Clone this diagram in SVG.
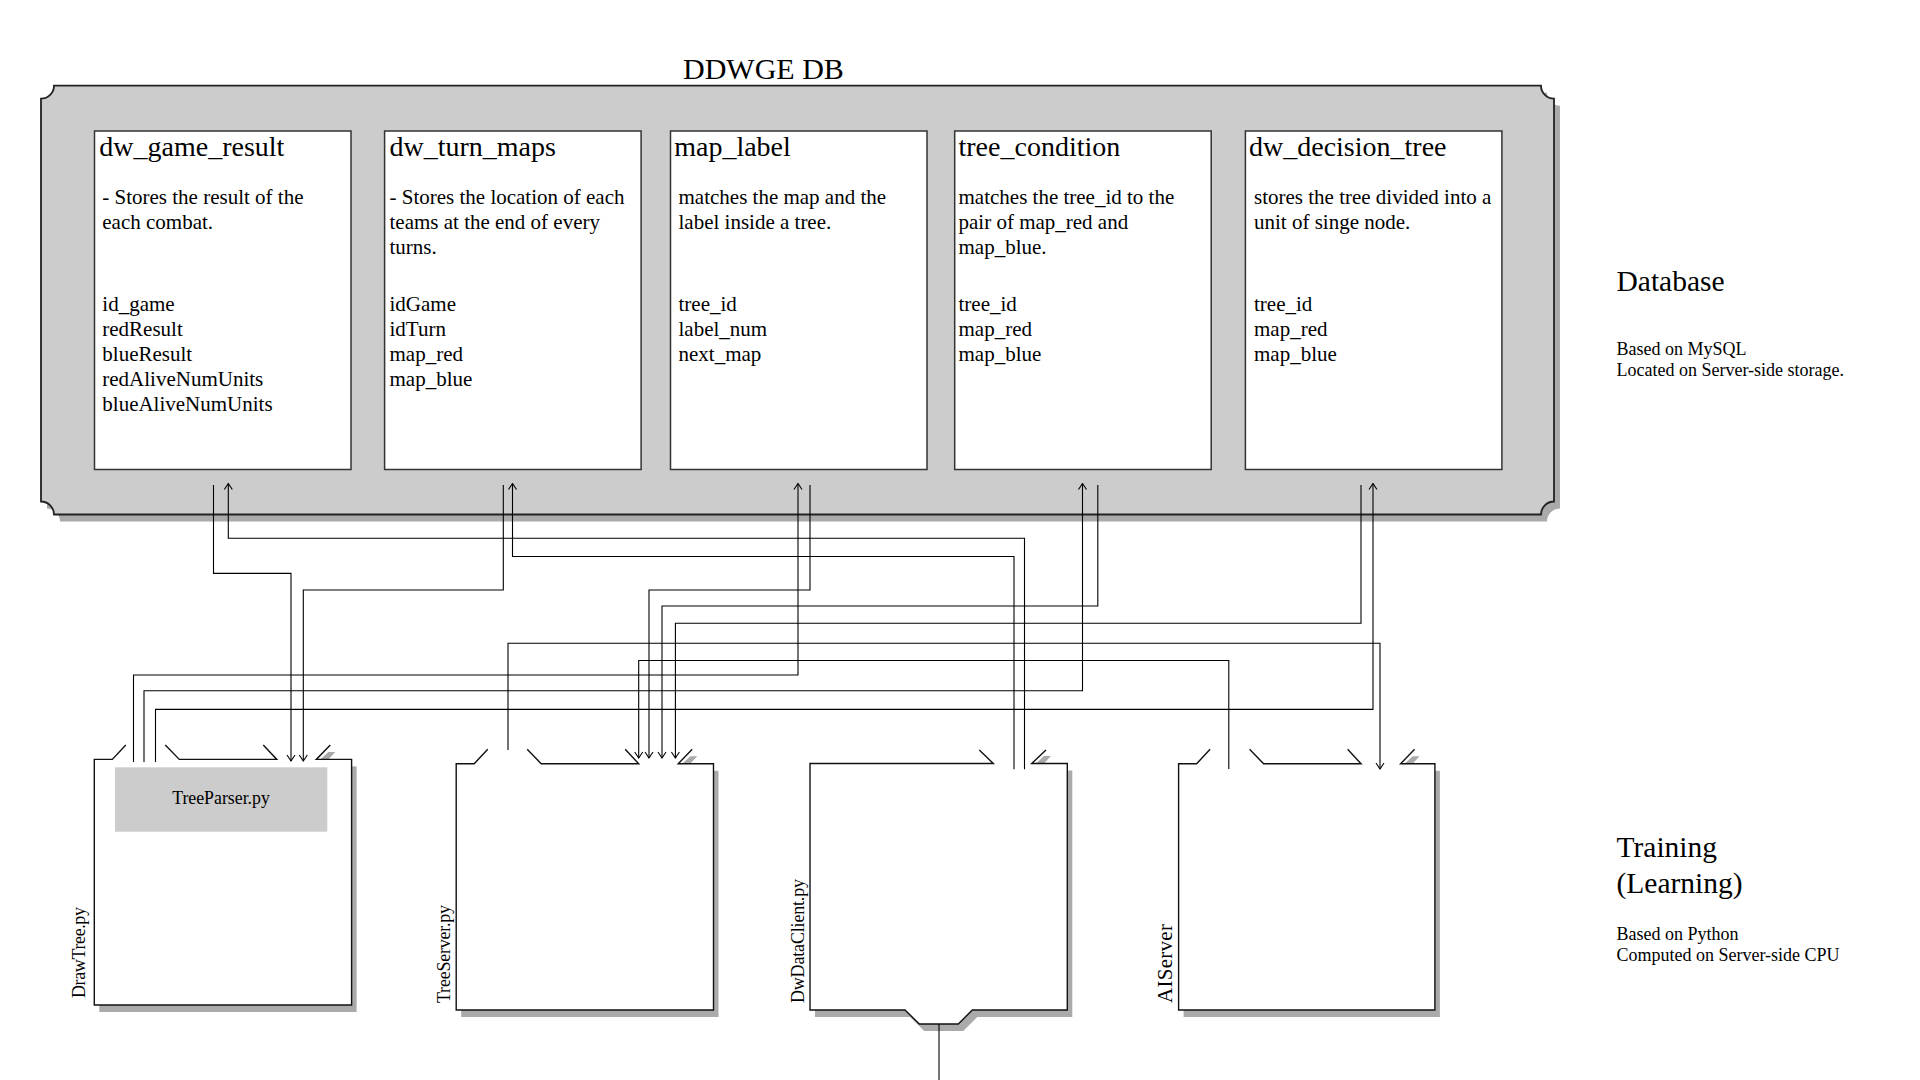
<svg xmlns="http://www.w3.org/2000/svg" width="1920" height="1080" viewBox="0 0 1920 1080">
<defs>
<style>
.t{font-family:"Liberation Serif","Times New Roman",serif;fill:#000}
.ttl{font-size:28px}
.bd{font-size:21px}
.big{font-size:29.5px}
.sm{font-size:18px}
.vl{font-size:18px}
.conn{fill:none;stroke:#000;stroke-width:1.1}
.tbl{fill:#fff;stroke:#333;stroke-width:1.5}
.shd{fill:#aaaaaa}
.nfill{fill:#fff}
.nline{fill:none;stroke:#111;stroke-width:1.4}
</style>
<marker id="arr" viewBox="-7 -6 8 12" markerWidth="8" markerHeight="12" refX="0" refY="0" orient="auto" markerUnits="userSpaceOnUse">
<path d="M-6,-4 L0,0 L-6,4" fill="none" stroke="#000" stroke-width="1.1"/>
</marker>
</defs>
<rect width="1920" height="1080" fill="#fff"/>

<g id="db">
<path class="shd" transform="translate(6,7)" d="M54,85.7 L1541,85.7 A13,13 0 0 0 1554,98.7 L1554,501.5 A13,13 0 0 0 1541,514.5 L54,514.5 A13,13 0 0 0 41,501.5 L41,98.7 A13,13 0 0 0 54,85.7 Z"/>
<path fill="#cccccc" stroke="#222" stroke-width="1.8" d="M54,85.7 L1541,85.7 A13,13 0 0 0 1554,98.7 L1554,501.5 A13,13 0 0 0 1541,514.5 L54,514.5 A13,13 0 0 0 41,501.5 L41,98.7 A13,13 0 0 0 54,85.7 Z"/>
<text class="t" x="683" y="79" font-size="30">DDWGE DB</text>
</g>

<g id="tbl-dw_game_result">
<rect class="tbl" x="94.5" y="131" width="256.5" height="338.5"/>
<text class="t ttl" x="99.3" y="156">dw_game_result</text>
<text class="t bd" x="102.3" y="203.5">- Stores the result of the</text>
<text class="t bd" x="102.3" y="228.5">each combat.</text>
<text class="t bd" x="102.3" y="311">id_game</text>
<text class="t bd" x="102.3" y="336">redResult</text>
<text class="t bd" x="102.3" y="361">blueResult</text>
<text class="t bd" x="102.3" y="386">redAliveNumUnits</text>
<text class="t bd" x="102.3" y="411">blueAliveNumUnits</text>
</g>

<g id="tbl-dw_turn_maps">
<rect class="tbl" x="384.6" y="131" width="256.5" height="338.5"/>
<text class="t ttl" x="389.5" y="156">dw_turn_maps</text>
<text class="t bd" x="389.5" y="203.5">- Stores the location of each</text>
<text class="t bd" x="389.5" y="228.5">teams at the end of every</text>
<text class="t bd" x="389.5" y="253.5">turns.</text>
<text class="t bd" x="389.5" y="311">idGame</text>
<text class="t bd" x="389.5" y="336">idTurn</text>
<text class="t bd" x="389.5" y="361">map_red</text>
<text class="t bd" x="389.5" y="386">map_blue</text>
</g>

<g id="tbl-map_label">
<rect class="tbl" x="670.5" y="131" width="256.5" height="338.5"/>
<text class="t ttl" x="674.2" y="156">map_label</text>
<text class="t bd" x="678.5" y="203.5">matches the map and the</text>
<text class="t bd" x="678.5" y="228.5">label inside a tree.</text>
<text class="t bd" x="678.5" y="311">tree_id</text>
<text class="t bd" x="678.5" y="336">label_num</text>
<text class="t bd" x="678.5" y="361">next_map</text>
</g>

<g id="tbl-tree_condition">
<rect class="tbl" x="954.7" y="131" width="256.5" height="338.5"/>
<text class="t ttl" x="958.5" y="156">tree_condition</text>
<text class="t bd" x="958.5" y="203.5">matches the tree_id to the</text>
<text class="t bd" x="958.5" y="228.5">pair of map_red and</text>
<text class="t bd" x="958.5" y="253.5">map_blue.</text>
<text class="t bd" x="958.5" y="311">tree_id</text>
<text class="t bd" x="958.5" y="336">map_red</text>
<text class="t bd" x="958.5" y="361">map_blue</text>
</g>

<g id="tbl-dw_decision_tree">
<rect class="tbl" x="1245.4" y="131" width="256.5" height="338.5"/>
<text class="t ttl" x="1249" y="156">dw_decision_tree</text>
<text class="t bd" x="1254" y="203.5">stores the tree divided into a</text>
<text class="t bd" x="1254" y="228.5">unit of singe node.</text>
<text class="t bd" x="1254" y="311">tree_id</text>
<text class="t bd" x="1254" y="336">map_red</text>
<text class="t bd" x="1254" y="361">map_blue</text>
</g>

<g id="label-database">
<text class="t big" x="1616.5" y="291">Database</text>
<text class="t sm" x="1616.5" y="354.7">Based on MySQL</text>
<text class="t sm" x="1616.5" y="376">Located on Server-side storage.</text>
</g>

<g id="label-training">
<text class="t big" x="1616.5" y="857">Training</text>
<text class="t big" x="1616.5" y="893">(Learning)</text>
<text class="t sm" x="1616.5" y="939.5">Based on Python</text>
<text class="t sm" x="1616.5" y="960.8">Computed on Server-side CPU</text>
</g>

<g id="node-drawtree" transform="translate(94.3,759.4)">
<rect class="shd" x="5" y="7" width="257.3" height="245.6"/>
<path class="shd" d="M226,0 L234,-7.5 L241,-7.5 L234,0 Z"/>
<rect class="nfill" width="257.3" height="245.6"/>
<path class="nline" d="M31.5,-14.5 L18,0 L0,0 L0,245.6 L257.3,245.6 L257.3,0 L222,0 L236,-14.5 M71,-14.5 L85,0 L182.5,0 L169,-14.5"/>
<rect x="20.7" y="7.9" width="212.3" height="64.4" fill="#cccccc"/>
<text class="t" x="126.7" y="44.6" font-size="17.8" text-anchor="middle">TreeParser.py</text>
<text class="t vl" transform="translate(-9.3,238.6) rotate(-90)" textLength="91">DrawTree.py</text>
</g>

<g id="node-treeserver" transform="translate(456.2,763.8)">
<rect class="shd" x="5" y="7" width="257.3" height="246.2"/>
<path class="shd" d="M226,0 L234,-7.5 L241,-7.5 L234,0 Z"/>
<rect class="nfill" width="257.3" height="246.2"/>
<path class="nline" d="M31.5,-14.5 L18,0 L0,0 L0,246.2 L257.3,246.2 L257.3,0 L222,0 L236,-14.5 M71,-14.5 L85,0 L182.5,0 L169,-14.5"/>
<text class="t vl" transform="translate(-6.7,239.2) rotate(-90)" textLength="98">TreeServer.py</text>
</g>

<g id="node-dwdataclient" transform="translate(810,763.5)">
<path class="shd" transform="translate(5,7)" d="M0,0 H257.3 V246.5 H162.3 L148.3,260.5 H109.3 L95,246.5 H0 Z"/>
<path class="shd" d="M226,0 L234,-7.5 L241,-7.5 L234,0 Z"/>
<path class="nfill" d="M0,0 H257.3 V246.5 H162.3 L148.3,260.5 H109.3 L95,246.5 H0 Z"/>
<path class="nline" d="M169.3,-13.5 L183.3,0 L0,0 L0,246.5 L95,246.5 L109.3,260.5 L148.3,260.5 L162.3,246.5 L257.3,246.5 L257.3,0 L221.7,0 L236,-13.5"/>
<text class="t vl" transform="translate(-6.5,239.5) rotate(-90)" textLength="124">DwDataClient.py</text>
</g>

<g id="node-aiserver" transform="translate(1178.6,763.8)">
<rect class="shd" x="5" y="7" width="256.3" height="246.2"/>
<path class="shd" d="M226,0 L234,-7.5 L241,-7.5 L234,0 Z"/>
<rect class="nfill" width="256.3" height="246.2"/>
<path class="nline" d="M31.5,-14.5 L18,0 L0,0 L0,246.2 L256.3,246.2 L256.3,0 L222,0 L236,-14.5 M71,-14.5 L85,0 L182.5,0 L169,-14.5"/>
<text class="t" font-size="21" transform="translate(-6.6,239.2) rotate(-90)" textLength="79">AIServer</text>
</g>

<g id="connectors">
<polyline class="conn" marker-end="url(#arr)" points="213.5,485 213.5,573.4 291,573.4 291,761"/>
<polyline class="conn" marker-end="url(#arr)" points="1024.5,769.3 1024.5,538.3 228.3,538.3 228.3,483.5"/>
<polyline class="conn" marker-end="url(#arr)" points="503.3,485 503.3,590 303.3,590 303.3,761"/>
<polyline class="conn" marker-end="url(#arr)" points="1014,769.3 1014,556.5 512.5,556.5 512.5,483.5"/>
<polyline class="conn" marker-end="url(#arr)" points="133.5,762 133.5,675 798,675 798,483.5"/>
<polyline class="conn" marker-end="url(#arr)" points="810,485 810,590 649,590 649,758"/>
<polyline class="conn" marker-end="url(#arr)" points="144,762 144,690.8 1082.5,690.8 1082.5,483.5"/>
<polyline class="conn" marker-end="url(#arr)" points="1097.8,485 1097.8,606 662,606 662,758"/>
<polyline class="conn" marker-end="url(#arr)" points="1361,485 1361,623.3 675.4,623.3 675.4,758"/>
<polyline class="conn" marker-end="url(#arr)" points="155.5,762 155.5,709.4 1373,709.4 1373,483.5"/>
<polyline class="conn" marker-end="url(#arr)" points="508,750 508,643.3 1380,643.3 1380,769"/>
<polyline class="conn" marker-end="url(#arr)" points="1228.8,769 1228.8,660.5 638.7,660.5 638.7,758"/>
<line class="conn" x1="939" y1="1024" x2="939" y2="1080"/>
</g>
</svg>
